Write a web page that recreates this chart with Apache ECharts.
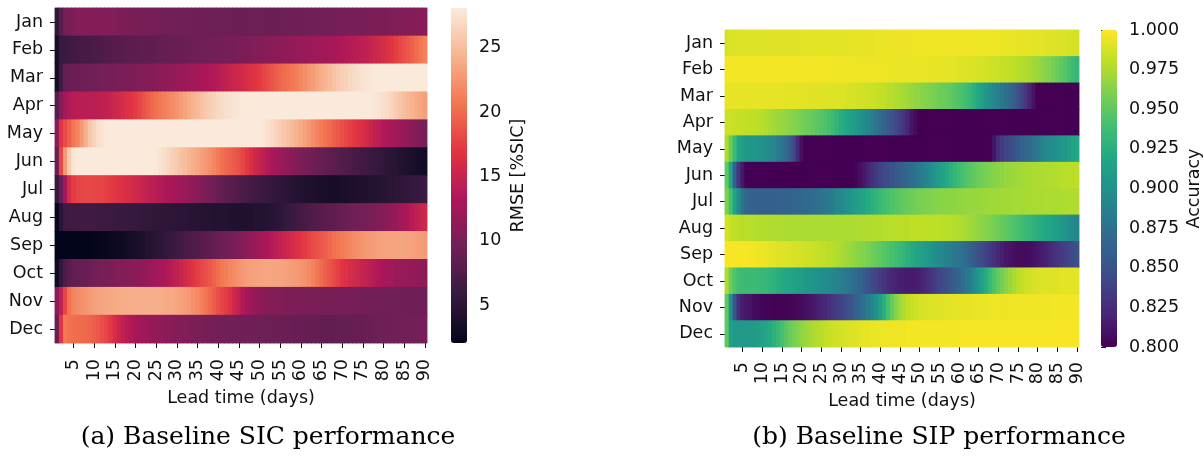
<!DOCTYPE html>
<html>
<head>
<meta charset="utf-8">
<script src="https://cdn.jsdelivr.net/npm/echarts@6/dist/echarts.min.js"></script>
<style>
  html, body { margin: 0; padding: 0; background: #fff; }
  #chart { width: 1204px; height: 466px; }
</style>
</head>
<body>
<div id="chart"></div>
<script>
// Row labels (initialisation month) and column labels (lead time in days)
const months = ['Jan', 'Feb', 'Mar', 'Apr', 'May', 'Jun', 'Jul', 'Aug', 'Sep', 'Oct', 'Nov', 'Dec'];
const leadDays = ['1','2','3','4','5','6','7','8','9','10','11','12','13','14','15','16','17','18','19','20',
  '21','22','23','24','25','26','27','28','29','30','31','32','33','34','35','36','37','38','39','40',
  '41','42','43','44','45','46','47','48','49','50','51','52','53','54','55','56','57','58','59','60',
  '61','62','63','64','65','66','67','68','69','70','71','72','73','74','75','76','77','78','79','80',
  '81','82','83','84','85','86','87','88','89','90'];

// Colour-bar ticks and ranges
const rmseTicks = [5, 10, 15, 20, 25];
const rmseRange = [2.05, 28.1];
const accTicks = [0.8, 0.825, 0.85, 0.875, 0.9, 0.925, 0.95, 0.975, 1.0];
const accRange = [0.8, 1.0];

// (a) SIC RMSE [%SIC], one array per initialisation month, lead days 1..90
const rmseJan = [5.5,8.0,9.8,10.2,10.4,10.5,10.6,10.6,10.7,10.7,10.7,10.6,10.6,10.5,10.5,10.4,10.3,10.2,10.1,10.0,10.0,9.9,9.9,9.8,9.8,9.7,9.7,9.6,9.6,9.5,
  9.5,9.5,9.4,9.4,9.4,9.3,9.3,9.3,9.3,9.3,9.3,9.2,9.2,9.2,9.2,9.2,9.2,9.2,9.2,9.2,9.2,9.2,9.2,9.2,9.2,9.3,9.3,9.3,9.4,9.4,
  9.4,9.5,9.5,9.5,9.6,9.6,9.7,9.7,9.8,9.8,9.9,9.9,9.9,10.0,10.0,10.1,10.1,10.2,10.2,10.3,10.3,10.4,10.5,10.5,10.6,10.7,10.7,10.8,10.9,10.9];
const rmseFeb = [3.5,5.8,6.1,6.3,6.5,6.7,6.8,6.9,7.0,7.1,7.3,7.4,7.6,7.7,7.8,7.9,8.0,8.1,8.2,8.3,8.3,8.4,8.5,8.5,8.6,8.7,8.7,8.8,8.9,9.0,
  9.1,9.1,9.2,9.3,9.3,9.4,9.5,9.5,9.6,9.7,9.8,9.8,9.9,10.0,10.1,10.2,10.3,10.4,10.5,10.6,10.8,10.9,11.0,11.1,11.2,11.4,11.5,11.6,11.8,11.9,
  12.0,12.1,12.3,12.4,12.5,12.6,12.8,12.9,13.1,13.3,13.5,13.7,13.9,14.1,14.3,14.6,14.9,15.3,15.7,16.1,16.6,17.0,17.5,18.0,18.5,19.0,19.5,20.1,20.7,21.3];
const rmseMar = [3.5,6.5,8.7,9.0,9.1,9.2,9.3,9.4,9.5,9.6,9.7,9.8,9.8,9.9,10.0,10.1,10.1,10.2,10.3,10.4,10.5,10.6,10.7,10.8,10.9,11.1,11.2,11.4,11.6,11.8,
  12.0,12.1,12.3,12.5,12.7,12.9,13.1,13.3,13.6,13.8,14.2,14.5,14.9,15.2,15.5,15.8,16.2,16.6,17.0,17.4,17.8,18.2,18.7,19.2,19.7,20.1,20.4,20.8,21.2,21.6,
  22.1,22.6,23.0,23.5,24.0,24.5,24.9,25.4,25.8,26.2,26.5,26.8,27.1,27.3,27.5,27.7,27.8,27.9,28.0,28.0,28.0,28.0,28.0,28.0,28.0,28.0,28.0,28.0,28.0,28.0];
const rmseApr = [8.0,11.0,12.5,13.5,13.9,14.0,14.0,14.1,14.1,14.2,14.3,14.4,14.6,14.9,15.3,15.7,16.1,16.5,16.9,17.3,17.9,18.6,19.2,19.8,20.3,20.8,21.2,21.6,22.0,22.4,
  22.9,23.4,23.9,24.4,24.8,25.3,25.7,26.1,26.5,26.8,27.1,27.3,27.5,27.6,27.8,27.9,28.0,28.0,28.0,28.0,28.0,28.0,28.0,28.0,28.0,28.0,28.0,28.0,28.0,28.0,
  28.0,28.0,28.0,28.0,28.0,28.0,28.0,28.0,28.0,28.0,28.0,28.0,28.0,28.0,28.0,28.0,27.9,27.8,27.6,27.3,27.0,26.6,26.1,25.6,25.1,24.7,24.3,23.9,23.5,23.2];
const rmseMay = [11.0,17.0,18.2,19.5,20.6,21.5,22.8,24.2,25.5,26.5,27.2,27.6,27.9,28.0,28.0,28.0,28.0,28.0,28.0,28.0,28.0,28.0,28.0,28.0,28.0,28.0,28.0,28.0,28.0,28.0,
  28.0,28.0,28.0,28.0,28.0,28.0,28.0,28.0,28.0,28.0,28.0,28.0,28.0,28.0,28.0,28.0,28.0,28.0,28.0,28.0,27.8,27.4,27.0,26.6,26.1,25.7,25.3,24.8,24.3,23.8,
  23.3,22.7,22.1,21.5,21.0,20.5,20.0,19.5,19.0,18.5,18.1,17.6,17.2,16.7,16.3,15.7,15.2,14.6,14.1,13.6,13.3,12.9,12.6,12.2,11.8,11.4,11.0,10.6,10.3,10.0];
const rmseJun = [9.0,18.0,22.8,26.0,27.6,28.0,28.0,28.0,28.0,28.0,28.0,28.0,28.0,28.0,28.0,28.0,28.0,28.0,28.0,28.0,28.0,28.0,28.0,28.0,27.9,27.6,27.2,26.8,26.3,25.9,
  25.4,25.0,24.5,24.1,23.7,23.2,22.8,22.3,21.7,21.0,20.3,19.9,19.5,19.1,18.6,18.0,17.2,16.3,15.5,14.9,14.3,13.7,13.1,12.6,12.2,11.8,11.4,11.0,10.6,10.3,
  10.0,9.7,9.4,9.1,8.9,8.6,8.4,8.2,8.0,7.7,7.5,7.3,7.0,6.8,6.5,6.3,6.1,5.9,5.7,5.5,5.2,5.0,4.8,4.5,4.3,4.1,3.9,3.7,3.5,3.3];
const rmseJul = [6.0,9.0,12.5,16.0,17.4,17.8,18.0,18.1,18.1,18.0,18.0,17.9,17.7,17.4,17.1,16.8,16.5,16.2,15.9,15.6,15.3,15.0,14.6,14.3,14.0,13.7,13.4,13.1,12.9,12.6,
  12.3,12.0,11.7,11.4,11.1,10.6,10.2,9.8,9.4,9.0,8.6,8.3,8.0,7.8,7.5,7.2,7.0,6.7,6.5,6.3,6.1,5.9,5.7,5.5,5.3,5.1,5.0,4.8,4.6,4.5,
  4.3,4.2,4.0,3.9,3.8,3.8,3.7,3.7,3.7,3.8,3.8,3.9,4.0,4.1,4.2,4.3,4.4,4.5,4.6,4.8,4.9,5.0,5.2,5.3,5.4,5.6,5.7,5.8,6.0,6.1];
const rmseAug = [2.5,5.0,6.2,6.4,6.5,6.5,6.5,6.5,6.4,6.4,6.3,6.3,6.2,6.2,6.1,6.0,6.0,5.9,5.8,5.8,5.7,5.6,5.6,5.5,5.4,5.4,5.3,5.2,5.2,5.1,
  5.0,5.0,4.9,4.8,4.8,4.7,4.6,4.6,4.5,4.5,4.4,4.4,4.3,4.3,4.3,4.3,4.3,4.3,4.4,4.4,4.5,4.6,4.8,5.0,5.2,5.5,5.8,6.1,6.4,6.7,
  7.0,7.2,7.5,7.7,7.9,8.1,8.3,8.5,8.7,8.9,9.1,9.3,9.5,9.6,9.8,9.9,10.1,10.3,10.5,10.8,11.1,11.5,11.9,12.4,12.9,13.4,13.9,14.4,14.9,15.5];
const rmseSep = [2.1,2.05,2.05,2.05,2.05,2.05,2.05,2.1,2.1,2.2,2.3,2.4,2.5,2.6,2.8,2.9,3.1,3.3,3.5,3.7,3.9,4.1,4.4,4.6,4.9,5.1,5.4,5.7,6.0,6.3,
  6.6,6.9,7.2,7.5,7.7,7.9,8.2,8.4,8.6,8.9,9.2,9.5,9.8,10.1,10.4,10.8,11.2,11.6,12.0,12.4,12.8,13.2,13.6,14.1,14.5,15.0,15.5,16.0,16.5,17.0,
  17.4,17.8,18.2,18.6,19.0,19.4,19.8,20.2,20.6,21.0,21.3,21.6,21.9,22.2,22.5,22.7,22.9,23.0,23.2,23.3,23.4,23.4,23.5,23.5,23.5,23.4,23.3,23.2,23.0,22.8];
const rmseOct = [3.0,5.5,7.2,8.2,8.6,8.8,8.9,9.0,9.2,9.4,9.6,9.8,10.0,10.2,10.4,10.5,10.6,10.7,10.9,11.0,11.3,11.6,11.9,12.2,12.5,12.8,13.2,13.6,14.0,14.5,
  15.1,15.7,16.3,16.9,17.5,18.0,18.5,19.0,19.6,20.2,20.8,21.2,21.6,22.0,22.4,22.7,23.0,23.2,23.3,23.4,23.5,23.5,23.5,23.5,23.4,23.3,23.2,23.0,22.8,22.6,
  22.3,21.9,21.4,20.8,20.1,19.4,18.8,18.2,17.6,17.0,16.5,16.1,15.7,15.3,14.9,14.5,14.1,13.7,13.3,13.0,12.7,12.4,12.2,12.0,11.8,11.7,11.6,11.5,11.4,11.3];
const rmseNov = [11.0,14.5,18.0,20.5,21.5,22.0,22.3,22.6,22.9,23.2,23.4,23.5,23.6,23.7,23.8,23.9,24.0,24.0,24.1,24.1,24.1,24.1,24.1,24.1,24.0,24.0,23.9,23.8,23.7,23.5,
  23.3,23.0,22.7,22.3,21.8,21.3,20.7,20.0,19.3,18.5,17.9,17.3,16.5,15.5,14.5,13.6,12.8,12.2,11.7,11.3,11.0,10.8,10.7,10.6,10.5,10.4,10.3,10.3,10.2,10.2,
  10.2,10.1,10.1,10.1,10.0,10.0,10.0,10.0,9.9,9.9,9.9,9.9,9.9,9.8,9.8,9.7,9.7,9.7,9.6,9.6,9.6,9.5,9.5,9.5,9.4,9.4,9.4,9.3,9.3,9.3];
const rmseDec = [9.0,17.0,20.8,20.4,20.2,20.1,20.0,19.9,19.7,19.4,19.0,18.5,17.9,17.2,16.2,15.2,14.5,13.9,13.4,12.9,12.6,12.3,12.1,11.9,11.7,11.5,11.3,11.1,10.9,10.8,
  10.6,10.5,10.4,10.3,10.2,10.1,10.0,9.9,9.8,9.7,9.6,9.6,9.5,9.5,9.4,9.4,9.4,9.3,9.3,9.3,9.3,9.2,9.2,9.2,9.2,9.1,9.1,9.0,9.0,8.9,
  8.9,8.8,8.8,8.7,8.6,8.6,8.6,8.6,8.7,8.7,8.8,8.8,8.9,8.9,9.0,9.1,9.1,9.2,9.3,9.3,9.4,9.4,9.5,9.5,9.6,9.6,9.7,9.7,9.8,9.8];

// (b) SIP accuracy, one array per initialisation month, lead days 1..90
const accJan = [0.988,0.989,0.989,0.990,0.990,0.990,0.990,0.990,0.990,0.990,0.990,0.991,0.991,0.991,0.991,0.991,0.991,0.991,0.991,0.992,0.992,0.992,0.992,0.992,0.992,0.992,0.992,0.992,0.992,0.992,
  0.992,0.992,0.993,0.993,0.993,0.993,0.993,0.993,0.994,0.994,0.994,0.994,0.995,0.995,0.995,0.995,0.995,0.995,0.995,0.995,0.996,0.996,0.996,0.996,0.996,0.996,0.996,0.996,0.996,0.996,
  0.996,0.996,0.996,0.995,0.995,0.995,0.995,0.995,0.995,0.995,0.994,0.994,0.994,0.994,0.993,0.993,0.993,0.993,0.992,0.992,0.992,0.991,0.991,0.990,0.990,0.989,0.989,0.988,0.988,0.988];
const accFeb = [0.997,0.997,0.997,0.997,0.997,0.997,0.997,0.997,0.997,0.997,0.997,0.997,0.997,0.997,0.997,0.997,0.997,0.997,0.997,0.997,0.997,0.997,0.997,0.997,0.997,0.997,0.997,0.996,0.996,0.996,
  0.996,0.996,0.996,0.995,0.995,0.995,0.995,0.995,0.995,0.995,0.995,0.995,0.994,0.994,0.994,0.994,0.994,0.994,0.994,0.994,0.994,0.994,0.993,0.993,0.993,0.993,0.993,0.992,0.992,0.991,
  0.991,0.990,0.990,0.989,0.988,0.988,0.987,0.986,0.985,0.984,0.983,0.982,0.981,0.980,0.979,0.977,0.976,0.974,0.972,0.970,0.967,0.964,0.961,0.958,0.954,0.950,0.946,0.941,0.936,0.932];
const accMar = [0.993,0.993,0.993,0.993,0.993,0.993,0.993,0.993,0.993,0.993,0.993,0.993,0.993,0.993,0.993,0.992,0.992,0.992,0.992,0.992,0.992,0.991,0.991,0.991,0.991,0.990,0.990,0.990,0.990,0.989,
  0.989,0.988,0.988,0.987,0.987,0.986,0.985,0.984,0.983,0.982,0.981,0.979,0.978,0.976,0.975,0.973,0.971,0.969,0.967,0.966,0.964,0.962,0.960,0.958,0.956,0.954,0.952,0.950,0.947,0.944,
  0.941,0.937,0.932,0.926,0.919,0.912,0.905,0.898,0.892,0.886,0.880,0.874,0.867,0.860,0.851,0.841,0.831,0.820,0.810,0.800,0.800,0.800,0.800,0.800,0.800,0.800,0.800,0.800,0.800,0.800];
const accApr = [0.984,0.984,0.983,0.983,0.982,0.982,0.981,0.980,0.979,0.978,0.976,0.974,0.972,0.970,0.969,0.967,0.965,0.963,0.961,0.959,0.956,0.954,0.952,0.949,0.946,0.943,0.940,0.935,0.930,0.925,
  0.920,0.915,0.910,0.906,0.902,0.897,0.891,0.885,0.878,0.870,0.864,0.858,0.851,0.845,0.837,0.830,0.822,0.812,0.805,0.800,0.800,0.800,0.800,0.800,0.800,0.800,0.800,0.800,0.800,0.800,
  0.800,0.800,0.800,0.800,0.800,0.800,0.800,0.800,0.800,0.800,0.800,0.800,0.800,0.800,0.800,0.800,0.800,0.800,0.800,0.800,0.800,0.800,0.800,0.800,0.800,0.800,0.800,0.800,0.800,0.800];
const accMay = [0.975,0.955,0.935,0.918,0.910,0.907,0.905,0.904,0.903,0.902,0.899,0.895,0.890,0.884,0.878,0.870,0.860,0.845,0.825,0.808,0.800,0.800,0.800,0.800,0.800,0.800,0.800,0.800,0.800,0.800,
  0.800,0.800,0.800,0.800,0.800,0.800,0.800,0.800,0.800,0.800,0.800,0.800,0.800,0.800,0.800,0.800,0.800,0.800,0.800,0.800,0.800,0.800,0.800,0.800,0.800,0.800,0.800,0.800,0.800,0.800,
  0.800,0.800,0.800,0.800,0.800,0.800,0.800,0.800,0.812,0.826,0.834,0.840,0.845,0.850,0.856,0.862,0.866,0.870,0.873,0.880,0.887,0.891,0.895,0.898,0.900,0.904,0.907,0.910,0.915,0.920];
const accJun = [0.950,0.915,0.860,0.830,0.812,0.800,0.800,0.800,0.800,0.800,0.800,0.800,0.800,0.800,0.800,0.800,0.800,0.800,0.800,0.800,0.800,0.800,0.800,0.800,0.800,0.800,0.800,0.800,0.800,0.800,
  0.800,0.800,0.800,0.803,0.808,0.813,0.820,0.827,0.833,0.838,0.843,0.847,0.851,0.855,0.859,0.863,0.867,0.871,0.876,0.881,0.886,0.892,0.898,0.904,0.910,0.916,0.921,0.927,0.932,0.937,
  0.941,0.945,0.948,0.951,0.954,0.957,0.959,0.961,0.963,0.965,0.966,0.968,0.969,0.970,0.971,0.972,0.973,0.974,0.974,0.975,0.975,0.976,0.976,0.977,0.977,0.978,0.978,0.979,0.979,0.980];
const accJul = [0.960,0.940,0.915,0.895,0.877,0.866,0.863,0.862,0.861,0.861,0.861,0.861,0.861,0.862,0.862,0.862,0.863,0.864,0.865,0.866,0.867,0.869,0.871,0.873,0.876,0.879,0.882,0.886,0.890,0.894,
  0.898,0.902,0.906,0.910,0.914,0.918,0.922,0.926,0.930,0.934,0.938,0.941,0.944,0.946,0.949,0.951,0.953,0.955,0.957,0.959,0.960,0.961,0.962,0.963,0.964,0.965,0.965,0.966,0.966,0.967,
  0.967,0.968,0.968,0.969,0.969,0.970,0.970,0.971,0.971,0.971,0.972,0.972,0.972,0.973,0.973,0.973,0.973,0.974,0.974,0.974,0.974,0.975,0.975,0.975,0.975,0.975,0.976,0.976,0.976,0.976];
const accAug = [0.988,0.982,0.980,0.980,0.979,0.979,0.978,0.978,0.977,0.977,0.977,0.976,0.976,0.976,0.976,0.975,0.975,0.975,0.975,0.975,0.974,0.974,0.974,0.974,0.974,0.974,0.974,0.974,0.974,0.974,
  0.975,0.975,0.975,0.975,0.976,0.976,0.976,0.977,0.977,0.977,0.978,0.978,0.978,0.979,0.979,0.979,0.979,0.980,0.980,0.980,0.980,0.980,0.980,0.980,0.980,0.979,0.979,0.978,0.977,0.976,
  0.975,0.973,0.971,0.969,0.967,0.965,0.963,0.961,0.958,0.956,0.953,0.950,0.947,0.944,0.941,0.938,0.935,0.932,0.929,0.926,0.923,0.920,0.917,0.913,0.910,0.906,0.902,0.898,0.894,0.890];
const accSep = [0.998,0.998,0.998,0.998,0.998,0.998,0.997,0.997,0.996,0.995,0.994,0.993,0.992,0.991,0.990,0.990,0.989,0.988,0.988,0.987,0.986,0.985,0.984,0.983,0.982,0.981,0.979,0.978,0.976,0.974,
  0.972,0.970,0.968,0.966,0.964,0.962,0.959,0.956,0.953,0.950,0.947,0.944,0.941,0.938,0.935,0.931,0.927,0.923,0.919,0.915,0.911,0.907,0.903,0.899,0.895,0.891,0.887,0.884,0.880,0.876,
  0.872,0.867,0.862,0.856,0.850,0.845,0.839,0.833,0.827,0.822,0.817,0.813,0.810,0.808,0.806,0.806,0.806,0.807,0.809,0.812,0.815,0.818,0.822,0.826,0.830,0.834,0.838,0.842,0.846,0.850];
const accOct = [0.975,0.955,0.945,0.938,0.936,0.935,0.935,0.935,0.934,0.933,0.932,0.930,0.928,0.925,0.922,0.920,0.917,0.915,0.913,0.910,0.907,0.905,0.903,0.901,0.899,0.897,0.895,0.892,0.889,0.886,
  0.882,0.878,0.874,0.869,0.864,0.858,0.852,0.846,0.840,0.835,0.830,0.826,0.822,0.819,0.817,0.816,0.815,0.815,0.816,0.818,0.821,0.825,0.830,0.835,0.840,0.845,0.850,0.855,0.860,0.866,
  0.872,0.879,0.886,0.895,0.904,0.914,0.924,0.934,0.943,0.951,0.958,0.964,0.969,0.974,0.978,0.981,0.984,0.986,0.988,0.989,0.990,0.990,0.991,0.991,0.991,0.992,0.992,0.992,0.992,0.992];
const accNov = [0.950,0.900,0.852,0.826,0.816,0.812,0.810,0.806,0.804,0.803,0.802,0.802,0.801,0.801,0.801,0.801,0.802,0.803,0.804,0.806,0.808,0.810,0.813,0.816,0.819,0.823,0.827,0.831,0.835,0.839,
  0.844,0.849,0.855,0.862,0.869,0.876,0.883,0.890,0.900,0.912,0.925,0.940,0.952,0.962,0.970,0.976,0.980,0.983,0.985,0.987,0.988,0.989,0.990,0.990,0.991,0.991,0.992,0.992,0.992,0.993,
  0.993,0.993,0.993,0.994,0.994,0.994,0.994,0.995,0.995,0.995,0.995,0.995,0.995,0.995,0.996,0.996,0.996,0.996,0.996,0.996,0.996,0.996,0.996,0.997,0.997,0.997,0.997,0.997,0.997,0.997];
const accDec = [0.950,0.912,0.908,0.907,0.907,0.907,0.908,0.909,0.911,0.914,0.918,0.922,0.927,0.933,0.940,0.947,0.953,0.958,0.962,0.966,0.969,0.972,0.975,0.977,0.979,0.981,0.983,0.984,0.986,0.987,
  0.988,0.989,0.990,0.991,0.992,0.993,0.993,0.994,0.994,0.995,0.995,0.995,0.996,0.996,0.996,0.996,0.997,0.997,0.997,0.997,0.997,0.997,0.997,0.997,0.997,0.997,0.997,0.997,0.997,0.997,
  0.998,0.998,0.998,0.998,0.998,0.998,0.998,0.998,0.998,0.998,0.998,0.998,0.998,0.998,0.998,0.998,0.998,0.998,0.998,0.998,0.998,0.998,0.998,0.998,0.998,0.998,0.998,0.998,0.998,0.998];

const rmseRows = [rmseJan, rmseFeb, rmseMar, rmseApr, rmseMay, rmseJun, rmseJul, rmseAug, rmseSep, rmseOct, rmseNov, rmseDec];
const accRows = [accJan, accFeb, accMar, accApr, accMay, accJun, accJul, accAug, accSep, accOct, accNov, accDec];

// seaborn "rocket" and matplotlib "viridis" colour maps as evenly spaced stops
const rocket = ['#03051a', '#35193e', '#701f57', '#ad1759', '#e13342', '#f37651', '#f6b48f', '#faebdd'];
const viridis = ['#440154', '#482475', '#414487', '#355f8d', '#2a788e', '#21918c', '#22a884', '#44bf70', '#7ad151', '#bddf26', '#fde725'];

function toCells(rows) {
  const cells = [];
  rows.forEach((row, m) => row.forEach((v, d) => cells.push([d, m, v])));
  return cells;
}
const rmseCells = toCells(rmseRows);
const accCells = toCells(accRows);

const FONT = 'DejaVu Sans';
const FS = 17.5;
const INK = '#111';
const everyFifth = (i) => (i + 1) % 5 === 0;

function leadAxis(grid, labelMargin, nameGap) {
  return {
    type: 'category', gridIndex: grid, data: leadDays,
    axisLine: { show: false },
    axisTick: { show: true, alignWithLabel: true, interval: everyFifth, length: 5, lineStyle: { color: INK, width: 1 } },
    axisLabel: { interval: everyFifth, rotate: 90, margin: labelMargin, color: INK, fontSize: FS, fontFamily: FONT },
    splitLine: { show: false },
    name: 'Lead time (days)', nameLocation: 'middle', nameGap: nameGap,
    nameTextStyle: { color: INK, fontSize: FS, fontFamily: FONT }
  };
}
function monthAxis(grid) {
  return {
    type: 'category', gridIndex: grid, data: months, inverse: true,
    axisLine: { show: false },
    axisTick: { show: true, alignWithLabel: true, length: 5, lineStyle: { color: INK, width: 1 } },
    axisLabel: { margin: 12, color: INK, fontSize: FS, fontFamily: FONT },
    splitLine: { show: false }
  };
}
function barAxis(grid, range, ticks, fmt, name, nameGap) {
  return {
    type: 'value', gridIndex: grid, position: 'right', min: range[0], max: range[1],
    axisLine: { show: false },
    axisTick: { show: true, customValues: ticks, length: 5, lineStyle: { color: INK, width: 1 } },
    axisLabel: { customValues: ticks, formatter: fmt, margin: 12, color: INK, fontSize: FS, fontFamily: FONT },
    splitLine: { show: false },
    name: name, nameLocation: 'middle', nameRotate: 90, nameGap: nameGap,
    nameTextStyle: { color: INK, fontSize: FS, fontFamily: FONT }
  };
}
// The cells of each heatmap are painted in two identical passes so that the
// anti-aliased edges between neighbouring columns close up.
function heatLayer(axisIndex, cells) {
  return { type: 'heatmap', xAxisIndex: axisIndex, yAxisIndex: axisIndex, data: cells,
           itemStyle: { borderWidth: 0 }, emphasis: { disabled: true }, progressive: 0, silent: true };
}

const chart = echarts.init(document.getElementById('chart'), null, { renderer: 'canvas' });
chart.setOption({
  animation: false,
  backgroundColor: '#fff',
  textStyle: { fontFamily: FONT },
  grid: [
    { left: 55, top: 8, width: 372, height: 335 },
    { left: 725, top: 30, width: 354, height: 317 },
    { left: 451, top: 8, width: 16, height: 335 },
    { left: 1101, top: 30, width: 16, height: 317 }
  ],
  xAxis: [
    leadAxis(0, 16, 44),
    leadAxis(1, 15, 43),
    { type: 'value', gridIndex: 2, show: false, min: 0, max: 1 },
    { type: 'value', gridIndex: 3, show: false, min: 0, max: 1 }
  ],
  yAxis: [
    monthAxis(0),
    monthAxis(1),
    barAxis(2, rmseRange, rmseTicks, (v) => String(v), 'RMSE [%SIC]', 42),
    barAxis(3, accRange, accTicks, (v) => v.toFixed(3), 'Accuracy', 68)
  ],
  visualMap: [
    { type: 'continuous', seriesIndex: [0, 2], min: rmseRange[0], max: rmseRange[1], calculable: false, hoverLink: false,
      orient: 'vertical', left: 451, top: 8, itemWidth: 16, itemHeight: 335, padding: 0,
      inRange: { color: rocket } },
    { type: 'continuous', seriesIndex: [1, 3], min: accRange[0], max: accRange[1], calculable: false, hoverLink: false,
      orient: 'vertical', left: 1101, top: 30, itemWidth: 16, itemHeight: 317, padding: 0,
      inRange: { color: viridis } }
  ],
  series: [
    heatLayer(0, rmseCells),
    heatLayer(1, accCells),
    heatLayer(0, rmseCells),
    heatLayer(1, accCells)
  ],
  graphic: [
    { type: 'text', x: 268, y: 437, silent: true,
      style: { text: '(a) Baseline SIC performance', align: 'center', verticalAlign: 'middle',
               font: '25px "DejaVu Serif"', fill: '#000' } },
    { type: 'text', x: 939, y: 437, silent: true,
      style: { text: '(b) Baseline SIP performance', align: 'center', verticalAlign: 'middle',
               font: '25px "DejaVu Serif"', fill: '#000' } }
  ]
});
</script>
</body>
</html>
